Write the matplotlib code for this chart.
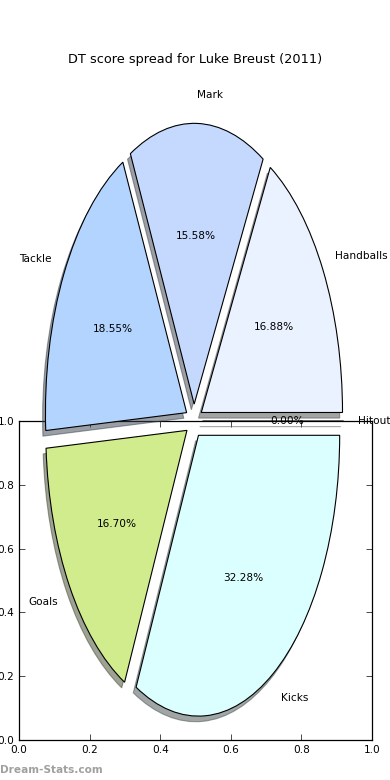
import matplotlib
matplotlib.use('Agg')
import matplotlib.pyplot as plt

# DT score spread, Luke Breust 2011
labels = ['Handballs', 'Mark', 'Tackle', 'Goals', 'Kicks', 'Hitout']
shares = [16.88, 15.58, 18.55, 16.70, 32.28, 0.00]
colours = ['#ebf2ff', '#c5d9ff', '#b3d4ff', '#d0ec8c', '#dbffff', '#ffffff']
ticks = [0.0, 0.2, 0.4, 0.6, 0.8, 1.0]

W, H = 390.0, 780.0
fig = plt.figure(figsize=(W / 100, H / 100), dpi=100)

# empty frame axes left over in the lower half
frame_ax = fig.add_axes([19 / W, 40 / H, 353 / W, 319 / H])
frame_ax.set_xlim(0, 1)
frame_ax.set_ylim(0, 1)
frame_ax.set_xticks(ticks)
frame_ax.set_yticks(ticks)
frame_ax.tick_params(direction='in', top=True, right=True, labelsize=7.6,
                     length=4, width=0.5)
for sp in frame_ax.spines.values():
    sp.set_linewidth(0.9)

# the pie itself, stretched over the whole figure height
pie_ax = fig.add_axes([17.5 / W, 8 / H, 353 / W, 702 / H])
pie_ax.pie(shares, labels=labels, colors=colours, explode=[0.06] * len(shares),
           autopct='%1.2f%%', shadow={'ox': -0.0144, 'oy': -0.0144},
           startangle=0,
           wedgeprops=dict(edgecolor='k', linewidth=0.8),
           textprops=dict(fontsize=7.6))
pie_ax.set_aspect('auto')
pie_ax.set_xlim(-1.25, 1.25)
pie_ax.set_ylim(-1.25, 1.25)

fig.text(0.5, (H - 60) / H, 'DT score spread for Luke Breust (2011)',
         ha='center', va='center', fontsize=9.3)
fig.text(0.0, (H - 770) / H, 'Dream-Stats.com', ha='left', va='center',
         fontsize=7.6, color='#a0a0a0', fontweight='bold')

fig.savefig('out.png', dpi=100)
